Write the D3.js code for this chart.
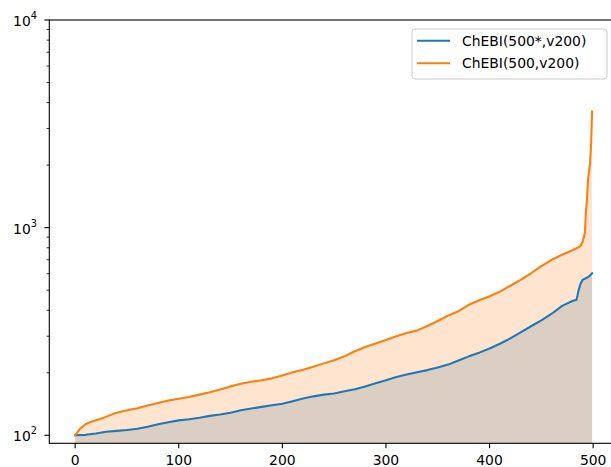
<!DOCTYPE html>
<html>
<head>
<meta charset="utf-8">
<script src="https://cdn.jsdelivr.net/npm/d3@7"></script>
<style>
  html, body { margin: 0; padding: 0; background: #fff; }
  svg { display: block; font-family: "DejaVu Sans", sans-serif; }
</style>
</head>
<body>
<svg id="chart" width="611" height="467"></svg>
<script>
// Sorted per-molecule values (index along x, value on log y)
const starIdx = [0,10,20,30,40,50,60,70,80,90,100,110,120,130,140,150,160,170,180,190,200,
  210,220,230,240,250,260,270,280,290,300,310,320,330,340,350,360,370,380,390,400,
  410,420,430,440,450,460,470,480,484,486,488,490,493,496,499];
const starVals = [100,100.5,102,104,105,106,107.6,110,113,115.5,118,119.5,121.5,124,126,128.5,132,134.5,137,139.5,142,
  146,150.5,154,157,159,163,166.5,172,178,184,191,196,201,206,212,219,229,240,250,262,
  276,293,313,335,358,385,420,443,450,500,540,562,570,582,603];

const plainIdx = [0,5,10,15,20,27,30,40,50,60,70,80,90,100,110,120,130,140,150,160,170,180,190,200,
  210,220,230,240,250,260,270,280,290,300,310,320,330,340,350,360,370,380,390,400,
  410,420,430,440,450,460,470,480,485,488,490,491,492,493,494,495,496,497,498,499];
const plainVals = [100,108,113,116,118,121,123,128.5,132,135,139,143,147,150,153,157,161,166,172,177,181,184,188,194,
  201,207,214,222,230,240,254,266,277,288,300,311,320,336,355,377,396,425,447,467,
  492,525,560,603,653,700,740,778,800,820,860,900,940,1190,1350,1700,1850,2050,2500,3630];

const seriesNames = ["ChEBI(500*,v200)", "ChEBI(500,v200)"];
const seriesColors = ["#1f77b4", "#ff7f0e"];
const xTicks = [0, 100, 200, 300, 400, 500];
const yMajor = [2, 3, 4];   // decade exponents

const series = [
  { name: seriesNames[0], color: seriesColors[0], pts: starIdx.map((x, i) => [x, starVals[i]]) },
  { name: seriesNames[1], color: seriesColors[1], pts: plainIdx.map((x, i) => [x, plainVals[i]]) }
];

const svg = d3.select("#chart");
const padL = 49.3, padT = 20, floorY = 443.3;

const x = d3.scaleLinear().domain([-24.95, 524]).range([padL, padL + 548.95 * 1.036]);
const y = d3.scaleLog().domain([91.5, 10000]).range([floorY, padT]);

const plot = svg.append("g");
plot.append("defs").append("clipPath").attr("id", "clip")
  .append("rect").attr("x", padL).attr("y", padT).attr("width", 700).attr("height", floorY - padT);

// filled areas down to the axis floor
const area = d3.area().curve(d3.curveLinear)
  .x(d => x(d[0])).y0(floorY).y1(d => y(d[1]));
const line = d3.line().x(d => x(d[0])).y(d => y(d[1]));

const g = plot.append("g").attr("clip-path", "url(#clip)");
series.forEach(s => {
  g.append("path").attr("d", area(s.pts)).attr("fill", s.color).attr("fill-opacity", 0.2);
});
series.forEach(s => {
  g.append("path").attr("d", line(s.pts)).attr("fill", "none")
    .attr("stroke", s.color).attr("stroke-width", 2.08)
    .attr("stroke-linejoin", "round").attr("stroke-linecap", "square");
});

// frame
svg.append("rect").attr("x", padL).attr("y", padT)
  .attr("width", x.range()[1] - padL).attr("height", floorY - padT)
  .attr("fill", "none").attr("stroke", "#000").attr("stroke-width", 1.1);

// x axis
const xa = svg.append("g");
xTicks.forEach(t => {
  const px = x(t);
  xa.append("line").attr("x1", px).attr("x2", px).attr("y1", floorY).attr("y2", floorY + 4.9)
    .attr("stroke", "#000").attr("stroke-width", 1.1);
  xa.append("text").attr("x", px).attr("y", 464.5).attr("text-anchor", "middle")
    .attr("font-size", 13.9).attr("fill", "#000").text(t);
});

// y axis: major decades and minor ticks
const ya = svg.append("g");
const [ymin, ymax] = y.domain();
for (let e = 1; e <= 4; e++) {
  for (let m = 1; m <= 9; m++) {
    const v = m * Math.pow(10, e);
    if (v < ymin || v > ymax) continue;
    const py = y(v);
    const major = m === 1;
    ya.append("line").attr("x1", padL - (major ? 4.9 : 2.8)).attr("x2", padL)
      .attr("y1", py).attr("y2", py).attr("stroke", "#000").attr("stroke-width", major ? 1.1 : 0.8);
  }
}
yMajor.forEach(e => {
  const py = y(Math.pow(10, e));
  const t = ya.append("text").attr("x", 37).attr("y", py + 6).attr("text-anchor", "end")
    .attr("font-size", 13.9).attr("fill", "#000");
  t.append("tspan").text("10");
  t.append("tspan").attr("font-size", 9.8).attr("dy", -7).text(e);
});

// legend
const lg = svg.append("g");
lg.append("rect").attr("x", 412).attr("y", 29).attr("width", 195).attr("height", 50).attr("rx", 3)
  .attr("fill", "#fff").attr("fill-opacity", 0.8).attr("stroke", "#cccccc").attr("stroke-width", 1);
series.forEach((s, i) => {
  const ly = 40.7 + i * 22.6;
  lg.append("line").attr("x1", 417).attr("x2", 450).attr("y1", ly).attr("y2", ly)
    .attr("stroke", s.color).attr("stroke-width", 2.08);
  lg.append("text").attr("x", 462).attr("y", ly + 5).attr("font-size", 13.9).attr("fill", "#000").text(s.name);
});
</script>
</body>
</html>
